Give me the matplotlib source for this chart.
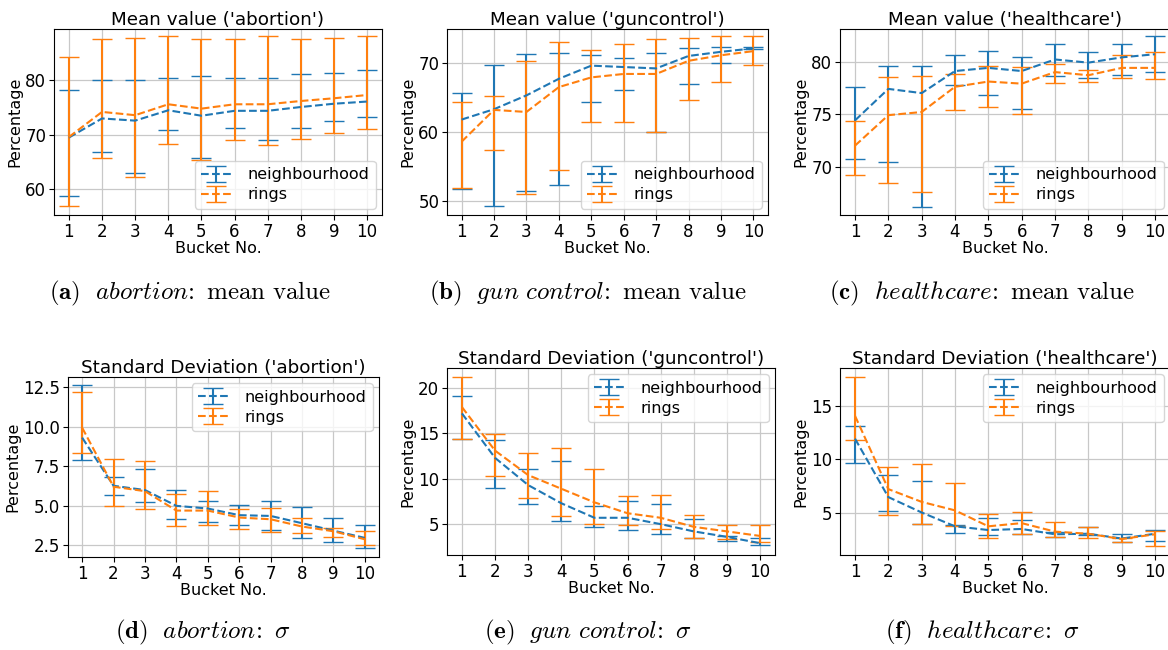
import matplotlib.pyplot as plt

plt.rcParams['mathtext.fontset'] = 'cm'

buckets = [1, 2, 3, 4, 5, 6, 7, 8, 9, 10]

############## Mean value: abortion ##############
ab_nb_mean = [69.5, 73.0, 72.6, 74.5, 73.5, 74.4, 74.4, 75.1, 75.7, 76.1]
ab_nb_lo = [58.8, 66.8, 63.0, 70.8, 65.7, 71.3, 69.1, 71.3, 72.6, 73.3]
ab_nb_hi = [78.2, 80.0, 80.1, 80.5, 80.7, 80.5, 80.5, 81.1, 81.4, 81.8]
ab_ri_mean = [69.6, 74.2, 73.6, 75.6, 74.8, 75.6, 75.6, 76.2, 76.7, 77.3]
ab_ri_lo = [56.9, 65.7, 62.3, 68.4, 65.4, 69.1, 68.1, 69.3, 70.4, 71.0]
ab_ri_hi = [84.2, 87.5, 87.7, 88.1, 87.5, 87.5, 88.1, 87.5, 87.7, 88.1]

############## Mean value: guncontrol ##############
gc_nb_mean = [61.8, 63.3, 65.3, 67.7, 69.6, 69.4, 69.2, 71.0, 71.6, 72.1]
gc_nb_lo = [51.7, 49.3, 51.5, 52.3, 64.3, 66.1, 60.0, 66.9, 70.0, 72.0]
gc_nb_hi = [65.6, 69.7, 71.3, 71.4, 71.2, 70.7, 71.4, 72.1, 72.3, 72.3]
gc_ri_mean = [58.6, 63.2, 62.9, 66.5, 67.9, 68.4, 68.4, 70.3, 71.1, 71.7]
gc_ri_lo = [51.9, 57.4, 51.1, 54.5, 61.4, 61.4, 60.0, 64.7, 67.3, 69.7]
gc_ri_hi = [64.3, 65.2, 70.3, 73.0, 71.9, 72.8, 73.4, 73.6, 73.9, 73.9]

############## Mean value: healthcare ##############
hc_nb_mean = [74.4, 77.4, 77.0, 79.1, 79.4, 79.1, 80.2, 79.9, 80.4, 80.7]
hc_nb_lo = [70.7, 70.4, 66.2, 77.8, 76.8, 75.5, 78.6, 78.4, 78.7, 79.0]
hc_nb_hi = [77.6, 79.6, 79.6, 80.6, 81.0, 80.4, 81.7, 80.9, 81.7, 82.4]
hc_ri_mean = [72.0, 74.9, 75.2, 77.6, 78.1, 77.9, 79.0, 78.7, 79.4, 79.4]
hc_ri_lo = [69.2, 68.4, 67.6, 75.4, 75.7, 75.0, 78.0, 78.1, 78.4, 78.3]
hc_ri_hi = [74.3, 78.5, 78.6, 78.8, 79.6, 79.5, 79.8, 79.2, 80.6, 80.9]

############## Standard deviation: abortion ##############
abs_nb_mean = [9.32, 6.27, 6.0, 5.0, 4.83, 4.41, 4.36, 3.9, 3.43, 2.97]
abs_nb_lo = [7.88, 5.66, 5.25, 4.17, 4.0, 3.79, 3.5, 2.99, 2.71, 2.31]
abs_nb_hi = [12.67, 6.80, 7.35, 6.02, 5.32, 5.06, 5.32, 4.94, 4.22, 3.8]
abs_ri_mean = [9.95, 6.21, 5.93, 4.7, 4.7, 4.26, 4.15, 3.69, 3.39, 2.88]
abs_ri_lo = [8.33, 5.0, 4.79, 3.75, 3.81, 3.56, 3.35, 3.3, 3.05, 2.54]
abs_ri_hi = [12.22, 7.94, 7.82, 5.72, 5.97, 4.79, 4.89, 4.26, 3.6, 3.38]

############## Standard deviation: guncontrol ##############
gcs_nb_mean = [17.2, 12.3, 9.3, 7.3, 5.7, 5.7, 5.0, 4.2, 3.6, 2.9]
gcs_nb_lo = [14.4, 9.0, 7.2, 5.3, 4.7, 4.3, 3.9, 3.45, 3.1, 2.65]
gcs_nb_hi = [19.1, 14.3, 11.1, 12.0, 7.0, 7.6, 7.2, 5.6, 3.7, 3.45]
gcs_ri_mean = [17.9, 13.1, 10.4, 8.9, 7.4, 6.2, 5.7, 4.7, 4.2, 3.7]
gcs_ri_lo = [14.4, 10.3, 7.9, 5.9, 5.0, 4.85, 4.45, 3.45, 3.4, 3.0]
gcs_ri_hi = [21.25, 14.9, 12.8, 13.4, 11.1, 8.1, 8.2, 6.0, 4.9, 4.9]

############## Standard deviation: healthcare ##############
hcs_nb_mean = [11.95, 6.45, 5.0, 3.7, 3.35, 3.45, 2.95, 3.0, 2.55, 3.0]
hcs_nb_lo = [9.7, 5.1, 3.9, 3.1, 2.9, 3.0, 2.65, 2.9, 2.2, 2.3]
hcs_nb_hi = [13.1, 8.5, 7.95, 3.85, 4.45, 4.3, 3.2, 3.6, 2.95, 3.4]
hcs_ri_mean = [14.1, 7.2, 6.0, 5.2, 3.7, 4.0, 3.2, 3.0, 2.5, 2.95]
hcs_ri_lo = [11.8, 4.75, 3.9, 3.7, 2.6, 2.95, 2.65, 2.6, 2.2, 1.85]
hcs_ri_hi = [17.8, 9.3, 9.6, 7.75, 4.9, 5.05, 4.1, 3.6, 2.6, 3.3]

titles = ["Mean value ('abortion')", "Mean value ('guncontrol')", "Mean value ('healthcare')",
          "Standard Deviation ('abortion')", "Standard Deviation ('guncontrol')",
          "Standard Deviation ('healthcare')"]
captions = [r"$\mathbf{(a)}\ \ \mathit{abortion}\!:\ \mathrm{mean\ value}$",
            r"$\mathbf{(b)}\ \ \mathit{gun\ control}\!:\ \mathrm{mean\ value}$",
            r"$\mathbf{(c)}\ \ \mathit{healthcare}\!:\ \mathrm{mean\ value}$",
            r"$\mathbf{(d)}\ \ \mathit{abortion}\!:\ \sigma$",
            r"$\mathbf{(e)}\ \ \mathit{gun\ control}\!:\ \sigma$",
            r"$\mathbf{(f)}\ \ \mathit{healthcare}\!:\ \sigma$"]

panels = [
    (ab_nb_mean, ab_nb_lo, ab_nb_hi, ab_ri_mean, ab_ri_lo, ab_ri_hi),
    (gc_nb_mean, gc_nb_lo, gc_nb_hi, gc_ri_mean, gc_ri_lo, gc_ri_hi),
    (hc_nb_mean, hc_nb_lo, hc_nb_hi, hc_ri_mean, hc_ri_lo, hc_ri_hi),
    (abs_nb_mean, abs_nb_lo, abs_nb_hi, abs_ri_mean, abs_ri_lo, abs_ri_hi),
    (gcs_nb_mean, gcs_nb_lo, gcs_nb_hi, gcs_ri_mean, gcs_ri_lo, gcs_ri_hi),
    (hcs_nb_mean, hcs_nb_lo, hcs_nb_hi, hcs_ri_mean, hcs_ri_lo, hcs_ri_hi),
]

W, H = 1168, 650
# axes boxes in pixels: left, top, right, bottom
boxes = [(54, 29, 382, 215), (447, 29, 768, 215), (840, 29, 1170, 215),
         (68, 377, 379, 557), (447, 368, 775, 555), (840, 368, 1170, 555)]
ylims = [(55.3, 89.4), (48.0, 74.9), (65.4, 83.1), (1.76, 13.16), (1.6, 22.2), (1.0, 18.6)]
yticks = [[60, 70, 80], [50, 60, 70], [70, 75, 80],
          [2.5, 5.0, 7.5, 10.0, 12.5], [5, 10, 15, 20], [5, 10, 15]]
legend_loc = ['lower right', 'lower right', 'lower right', 'upper right', 'upper right', 'upper right']
cap_pos = [(190, 293), (588, 293), (982, 293), (203, 632), (588, 632), (982, 632)]

fig = plt.figure(figsize=(W / 100, H / 100), dpi=100)

for i in range(6):
    l, t, r, b = boxes[i]
    ax = fig.add_axes([l / W, 1 - b / H, (r - l) / W, (b - t) / H])
    nb_m, nb_lo, nb_hi, ri_m, ri_lo, ri_hi = panels[i]
    nb_err = [[m - lo for m, lo in zip(nb_m, nb_lo)], [hi - m for m, hi in zip(nb_m, nb_hi)]]
    ri_err = [[m - lo for m, lo in zip(ri_m, ri_lo)], [hi - m for m, hi in zip(ri_m, ri_hi)]]
    ax.errorbar(buckets, nb_m, yerr=nb_err, color='tab:blue', ls='--', lw=1.5,
                capsize=7, elinewidth=1.5, label='neighbourhood')
    ax.errorbar(buckets, ri_m, yerr=ri_err, color='tab:orange', ls='--', lw=1.5,
                capsize=7, elinewidth=1.5, label='rings')
    ax.set_xticks(buckets)
    ax.set_yticks(yticks[i])
    ax.set_ylim(ylims[i])
    ax.set_xlim(0.55, 10.45)
    ax.grid(True, color='#c8c8c8', lw=0.9)
    ax.tick_params(labelsize=12, pad=2)
    ax.set_title(titles[i], fontsize=13.2, pad=3)
    ax.set_xlabel('Bucket No.', fontsize=11.5, labelpad=0)
    ax.set_ylabel('Percentage', fontsize=11.5, labelpad=2)
    ax.legend(loc=legend_loc[i], fontsize=11.5, handlelength=1.9,
              borderaxespad=0.4, labelspacing=0.3, handletextpad=1.0)
    fig.text(cap_pos[i][0] / W, 1 - cap_pos[i][1] / H, captions[i], fontsize=18,
             ha='center', va='center')

plt.savefig('out.png', dpi=100)
